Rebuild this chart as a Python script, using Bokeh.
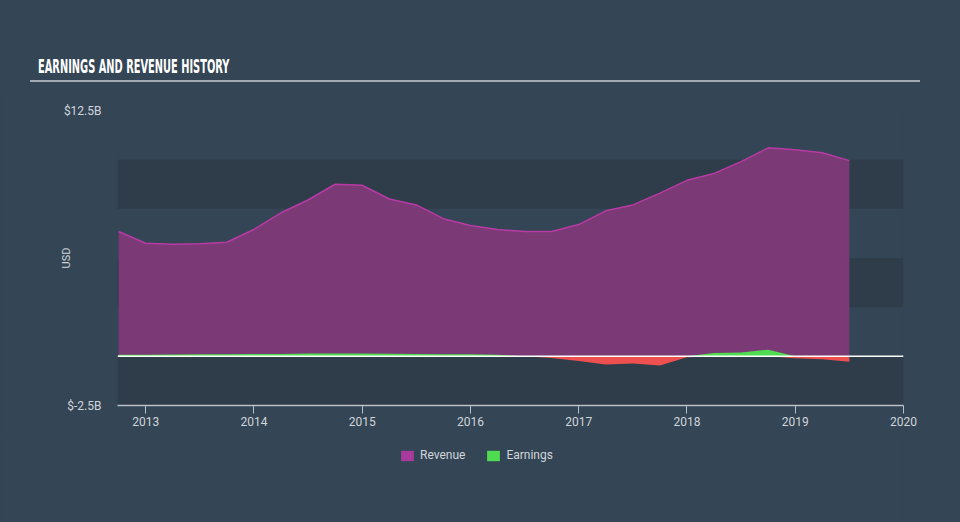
from bokeh.plotting import figure
from bokeh.layouts import column
from bokeh.models import Range1d, FixedTicker, BoxAnnotation, Span, Legend, LegendItem, ColumnDataSource, Div
from bokeh.embed import file_html
from bokeh.resources import INLINE

# ---- data (USD billions, trailing twelve months, quarterly) ----
quarters = [2012.75, 2013.0, 2013.25, 2013.5, 2013.75, 2014.0, 2014.25, 2014.5, 2014.75,
            2015.0, 2015.25, 2015.5, 2015.75, 2016.0, 2016.25, 2016.5, 2016.75,
            2017.0, 2017.25, 2017.5, 2017.75, 2018.0, 2018.25, 2018.5, 2018.75,
            2019.0, 2019.25, 2019.5]
revenue = [6.35, 5.75, 5.7, 5.72, 5.8, 6.45, 7.3, 7.95, 8.75,
           8.7, 8.0, 7.7, 7.0, 6.65, 6.45, 6.35, 6.35,
           6.7, 7.4, 7.7, 8.3, 8.95, 9.3, 9.9, 10.6,
           10.5, 10.35, 9.95]
earnings = [0.08, 0.08, 0.09, 0.1, 0.1, 0.12, 0.12, 0.14, 0.15,
            0.15, 0.13, 0.12, 0.1, 0.1, 0.08, 0.0, -0.08,
            -0.24, -0.42, -0.36, -0.47, -0.05, 0.17, 0.2, 0.34,
            -0.1, -0.15, -0.27]
year_ticks = [2013, 2014, 2015, 2016, 2017, 2018, 2019, 2020]
y_ticks = [-2.5, 12.5]
y_tick_labels = {-2.5: "$-2.5B", 12.5: "$12.5B"}
title_text = "EARNINGS AND REVENUE HISTORY"
series_names = ["Revenue", "Earnings"]

BG = "#344555"
BAND = "#2f3d4b"
REV_FILL = "#7b3a76"
REV_LINE = "#b83aa4"
REV_LEG = "#a83a9c"
GREEN = "#50dc50"
RED = "#ee5050"
TXT = "#d0d5da"
FONT = "Roboto"

src = ColumnDataSource(dict(
    x=quarters,
    rev=revenue,
    zero=[0.0] * len(quarters),
    pos=[max(e, 0.0) for e in earnings],
    neg=[min(e, 0.0) for e in earnings],
))

# ---- header (title + rule) ----
header_html = (
    '<div style="position:relative;width:960px;height:95px;">'
    '<div style="position:absolute;left:38px;top:57px;line-height:1;white-space:nowrap;'
    'font-family:\'DejaVu Sans Condensed\';font-weight:bold;font-size:19px;color:#ffffff;'
    'transform:scaleX(0.576);transform-origin:left top;">' + title_text + '</div>'
    '<div style="position:absolute;left:30px;top:80px;width:890px;height:2px;background:#a3aab2;"></div>'
    '</div>'
)
header = Div(text=header_html, width=960, height=95, margin=0,
             styles={"background-color": BG})

# ---- main chart ----
p = figure(width=960, height=340, output_backend="svg", toolbar_location=None,
           x_range=Range1d(2012.74, 2020.0), y_range=Range1d(-2.5, 12.5),
           min_border_left=117, min_border_right=57, min_border_top=15, min_border_bottom=30,
           background_fill_color=BG, border_fill_color=BG, margin=0)
p.outline_line_color = None
p.grid.visible = False

for lo, hi in [(-2.5, 0.0), (2.5, 5.0), (7.5, 10.0)]:
    p.add_layout(BoxAnnotation(bottom=lo, top=hi, fill_color=BAND, fill_alpha=1.0,
                               line_color=None, level="underlay"))

p.varea(x="x", y1="zero", y2="rev", source=src, fill_color=REV_FILL, fill_alpha=1.0)
p.line(x="x", y="rev", source=src, line_color=REV_LINE, line_width=1.5)
p.varea(x="x", y1="zero", y2="pos", source=src, fill_color=GREEN)
p.varea(x="x", y1="zero", y2="neg", source=src, fill_color=RED)
p.add_layout(Span(location=0, dimension="width", line_color="white", line_width=1.5))

xa = p.xaxis[0]
xa.ticker = FixedTicker(ticks=year_ticks)
xa.axis_line_color = "#b8c0c8"
xa.axis_line_width = 1.5
xa.major_tick_line_color = "#b8c0c8"
xa.major_tick_in = 0
xa.major_tick_out = 8
xa.minor_tick_line_color = None
xa.major_label_text_color = TXT
xa.major_label_text_font = FONT
xa.major_label_text_font_size = "12px"
xa.major_label_standoff = 3

ya = p.yaxis[0]
ya.ticker = FixedTicker(ticks=y_ticks)
ya.major_label_overrides = y_tick_labels
ya.axis_line_color = None
ya.major_tick_line_color = None
ya.minor_tick_line_color = None
ya.major_label_text_color = TXT
ya.major_label_text_font = FONT
ya.major_label_text_font_size = "12px"
ya.major_label_standoff = 10
ya.axis_label = "USD"
ya.axis_label_text_color = TXT
ya.axis_label_text_font = FONT
ya.axis_label_text_font_size = "11px"
ya.axis_label_text_font_style = "normal"
ya.axis_label_standoff = -12

# ---- legend strip (its frame is aligned with the chart frame by the column) ----
lg = figure(width=960, height=87, output_backend="svg", toolbar_location=None,
            x_axis_type=None, y_axis_type=None, x_range=Range1d(0, 1), y_range=Range1d(0, 1),
            min_border_left=0, min_border_right=0, min_border_top=0, min_border_bottom=0,
            background_fill_color=BG, border_fill_color=BG, margin=0)
lg.outline_line_color = None
lg.grid.visible = False
r_rev = lg.varea(x="x", y1="zero", y2="rev", source=src, fill_color=REV_LEG)
r_ear = lg.varea(x="x", y1="zero", y2="pos", source=src, fill_color=GREEN)
leg = Legend(items=[LegendItem(label=series_names[0], renderers=[r_rev]),
                    LegendItem(label=series_names[1], renderers=[r_ear])],
             orientation="horizontal", location=(282, 60),
             background_fill_alpha=0, border_line_color=None,
             label_text_color=TXT, label_text_font=FONT, label_text_font_size="12px",
             glyph_width=16, glyph_height=13, label_height=13, spacing=20, label_standoff=5,
             margin=0, padding=0)
lg.add_layout(leg, "center")

layout = column(header, p, lg, spacing=0, margin=0, styles={"background-color": BG})
open("out.html", "w").write(file_html(layout, INLINE))
